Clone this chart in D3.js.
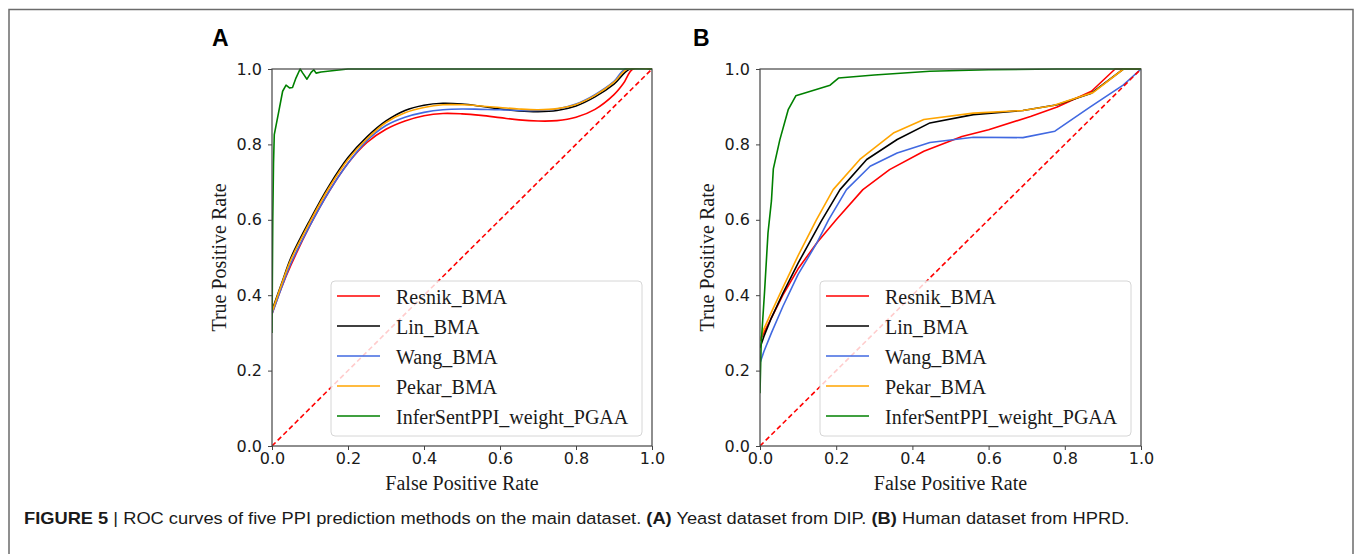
<!DOCTYPE html>
<html>
<head>
<meta charset="utf-8">
<script src="https://cdn.jsdelivr.net/npm/d3@7"></script>
<style>
  body { margin: 0; background: #fff; }
  svg { display: block; }
</style>
</head>
<body>
<svg id="fig"></svg>
<script>
// ROC curves, two panels

const seriesNames = ["Resnik_BMA", "Lin_BMA", "Wang_BMA", "Pekar_BMA", "InferSentPPI_weight_PGAA"];
const seriesColors = ["#ff0000", "#000000", "#4169e1", "#ffa500", "#008000"];
const tickValues = [0, 0.2, 0.4, 0.6, 0.8, 1.0];

// panel A : Yeast / DIP  ([fpr, tpr])
const resnikA = [[0,0.35],[0.025,0.42],[0.05,0.48],[0.1,0.585],[0.15,0.675],[0.2,0.75],[0.25,0.805],[0.3,0.84],[0.35,0.862],[0.4,0.876],[0.45,0.882],[0.5,0.881],[0.55,0.877],[0.6,0.871],[0.65,0.865],[0.7,0.862],[0.75,0.863],[0.8,0.872],[0.85,0.893],[0.9,0.932],[0.925,0.962],[0.95,1.0],[1,1]];
const linA = [[0,0.36],[0.025,0.43],[0.05,0.5],[0.1,0.6],[0.15,0.69],[0.2,0.765],[0.25,0.82],[0.3,0.862],[0.35,0.89],[0.4,0.904],[0.45,0.909],[0.5,0.907],[0.55,0.901],[0.6,0.894],[0.65,0.889],[0.7,0.887],[0.75,0.89],[0.8,0.902],[0.85,0.926],[0.9,0.96],[0.942,1.0],[1,1]];
const wangA = [[0,0.35],[0.025,0.42],[0.05,0.485],[0.1,0.585],[0.15,0.675],[0.2,0.75],[0.25,0.81],[0.3,0.85],[0.35,0.872],[0.4,0.885],[0.45,0.892],[0.5,0.894],[0.55,0.893],[0.6,0.892],[0.65,0.89],[0.7,0.89],[0.75,0.894],[0.8,0.907],[0.85,0.932],[0.9,0.967],[0.93,1.0],[1,1]];
const pekarA = [[0,0.355],[0.025,0.428],[0.05,0.495],[0.1,0.595],[0.15,0.685],[0.2,0.76],[0.25,0.815],[0.3,0.858],[0.35,0.884],[0.4,0.898],[0.45,0.905],[0.5,0.905],[0.55,0.902],[0.6,0.898],[0.65,0.894],[0.7,0.892],[0.75,0.895],[0.8,0.906],[0.85,0.93],[0.9,0.965],[0.935,1.0],[1,1]];
const inferA = [[0,0.3],[0.002,0.6],[0.004,0.75],[0.006,0.826],[0.017,0.883],[0.028,0.941],[0.037,0.957],[0.046,0.95],[0.054,0.951],[0.063,0.976],[0.074,1.0],[0.081,0.989],[0.092,0.973],[0.103,0.991],[0.11,0.998],[0.116,0.989],[0.129,0.992],[0.164,0.996],[0.2,1.0],[1,1]];

// panel B : Human / HPRD
const resnikB = [[0,0.28],[0.01,0.3],[0.03,0.34],[0.06,0.4],[0.1,0.47],[0.15,0.54],[0.2,0.6],[0.27,0.68],[0.34,0.733],[0.43,0.782],[0.53,0.821],[0.6,0.839],[0.71,0.874],[0.78,0.899],[0.87,0.941],[0.932,1.0],[1,1]];
const linB = [[0,0.26],[0.01,0.29],[0.03,0.34],[0.06,0.405],[0.1,0.485],[0.16,0.595],[0.21,0.68],[0.28,0.76],[0.36,0.813],[0.446,0.857],[0.56,0.879],[0.69,0.89],[0.78,0.905],[0.87,0.936],[0.954,1.0],[1,1]];
const wangB = [[0,0.22],[0.01,0.25],[0.03,0.3],[0.06,0.37],[0.1,0.455],[0.15,0.54],[0.18,0.6],[0.227,0.68],[0.289,0.742],[0.36,0.777],[0.446,0.805],[0.56,0.819],[0.69,0.818],[0.774,0.835],[0.866,0.899],[0.954,0.958],[1,1]];
const pekarB = [[0,0.28],[0.01,0.31],[0.03,0.355],[0.06,0.42],[0.1,0.505],[0.148,0.6],[0.192,0.68],[0.262,0.76],[0.35,0.83],[0.43,0.866],[0.56,0.883],[0.69,0.89],[0.77,0.903],[0.875,0.938],[0.954,1.0],[1,1]];
const inferB = [[0,0.14],[0.003,0.27],[0.012,0.41],[0.021,0.565],[0.03,0.65],[0.035,0.735],[0.052,0.812],[0.074,0.892],[0.094,0.929],[0.184,0.957],[0.206,0.976],[0.3,0.984],[0.446,0.994],[0.6,0.998],[0.78,1.0],[1,1]];

const width = 1355;
const height = 554;

const svg = d3.select("#fig").attr("width", width).attr("height", height);

// outer frame of the figure (open at the bottom)
svg.append("path")
  .attr("d", `M9,${height} V9.5 H1353 V${height}`)
  .attr("fill", "none")
  .attr("stroke", "#6b6b6b")
  .attr("stroke-width", 1.5);

const panels = [
  { letter: "A", letterX: 212, left: 272, right: 652, data: [resnikA, linA, wangA, pekarA, inferA], smooth: true },
  { letter: "B", letterX: 693, left: 760, right: 1141, data: [resnikB, linB, wangB, pekarB, inferB], smooth: false }
];
const plotTop = 69;
const plotBottom = 446;

panels.forEach(p => {
  const g = svg.append("g");
  const x = d3.scaleLinear().domain([0, 1]).range([p.left, p.right]);
  const y = d3.scaleLinear().domain([0, 1]).range([plotBottom, plotTop]);

  const clipId = "clip" + p.letter;
  g.append("clipPath").attr("id", clipId)
    .append("rect")
    .attr("x", p.left).attr("y", plotTop - 1)
    .attr("width", p.right - p.left).attr("height", plotBottom - plotTop + 2);

  const plot = g.append("g").attr("clip-path", `url(#${clipId})`);

  p.data.forEach((d, i) => {
    const curve = (p.smooth && i < 4) ? d3.curveCatmullRom.alpha(0.5) : d3.curveLinear;
    const line = d3.line().x(v => x(v[0])).y(v => y(v[1])).curve(curve);
    plot.append("path")
      .datum(d)
      .attr("d", line)
      .attr("fill", "none")
      .attr("stroke", seriesColors[i])
      .attr("stroke-width", 1.6)
      .attr("stroke-linejoin", "round");
  });

  // chance diagonal
  plot.append("line")
    .attr("x1", x(0)).attr("y1", y(0))
    .attr("x2", x(1)).attr("y2", y(1))
    .attr("stroke", "#ff0000")
    .attr("stroke-width", 1.6)
    .attr("stroke-dasharray", "5,3");

  // axes
  const xAxis = d3.axisBottom(x).tickValues(tickValues).tickFormat(d3.format(".1f")).tickSize(4).tickPadding(3);
  const yAxis = d3.axisLeft(y).tickValues(tickValues).tickFormat(d3.format(".1f")).tickSize(4).tickPadding(6);

  const gx = g.append("g").attr("transform", `translate(0,${plotBottom})`).call(xAxis);
  const gy = g.append("g").attr("transform", `translate(${p.left},0)`).call(yAxis);
  [gx, gy].forEach(a => {
    a.select(".domain").remove();
    a.selectAll(".tick line").attr("stroke", "#444");
    a.selectAll(".tick text")
      .attr("fill", "#1a1a1a")
      .style("font-family", "'DejaVu Sans', sans-serif")
      .style("font-size", "16px");
  });

  g.append("rect")
    .attr("x", p.left).attr("y", plotTop)
    .attr("width", p.right - p.left).attr("height", plotBottom - plotTop)
    .attr("fill", "none")
    .attr("stroke", "#444")
    .attr("stroke-width", 1.2);

  // axis titles
  g.append("text")
    .attr("x", (p.left + p.right) / 2).attr("y", 490)
    .attr("text-anchor", "middle")
    .style("font-family", "'Liberation Serif', 'Times New Roman', serif")
    .style("font-size", "20px")
    .attr("fill", "#1a1a1a")
    .text("False Positive Rate");

  g.append("text")
    .attr("transform", `translate(${p.left - 46},${(plotTop + plotBottom) / 2}) rotate(-90)`)
    .attr("text-anchor", "middle")
    .style("font-family", "'Liberation Serif', 'Times New Roman', serif")
    .style("font-size", "20px")
    .attr("fill", "#1a1a1a")
    .text("True Positive Rate");

  // panel letter
  g.append("text")
    .attr("x", p.letterX).attr("y", 46)
    .style("font-family", "'Liberation Sans', Arial, sans-serif")
    .style("font-size", "23px")
    .style("font-weight", "bold")
    .text(p.letter);

  // legend
  const lw = 311, lh = 155;
  const lx = p.right - 10 - lw;
  const ly = plotBottom - 10 - lh;
  const leg = g.append("g");
  leg.append("rect")
    .attr("x", lx).attr("y", ly)
    .attr("width", lw).attr("height", lh)
    .attr("rx", 4)
    .attr("fill", "#fff").attr("fill-opacity", 0.8)
    .attr("stroke", "#d6d6d6");
  seriesNames.forEach((name, i) => {
    const ry = ly + 15 + i * 30;
    leg.append("line")
      .attr("x1", lx + 6).attr("x2", lx + 49)
      .attr("y1", ry).attr("y2", ry)
      .attr("stroke", seriesColors[i])
      .attr("stroke-width", 1.6);
    leg.append("text")
      .attr("x", lx + 65).attr("y", ry + 8)
      .style("font-family", "'Liberation Serif', 'Times New Roman', serif")
      .style("font-size", "20px")
      .attr("fill", "#1a1a1a")
      .text(name);
  });
});

// caption (stretched horizontally to the reference's width)
const capX = 24, capWidth = 1106;
const cap = svg.append("text")
  .attr("x", capX).attr("y", 524)
  .style("font-family", "'Liberation Sans', Arial, sans-serif")
  .style("font-size", "16.5px")
  .attr("fill", "#1a1a1a");
cap.append("tspan").style("font-weight", "bold").text("FIGURE 5");
cap.append("tspan").text(" | ROC curves of five PPI prediction methods on the main dataset. ");
cap.append("tspan").style("font-weight", "bold").text("(A)");
cap.append("tspan").text(" Yeast dataset from DIP. ");
cap.append("tspan").style("font-weight", "bold").text("(B)");
cap.append("tspan").text(" Human dataset from HPRD.");
const capLen = cap.node().getComputedTextLength();
const sx = capWidth / capLen;
cap.attr("transform", `translate(${capX},0) scale(${sx},1) translate(${-capX},0)`);
</script>
</body>
</html>
